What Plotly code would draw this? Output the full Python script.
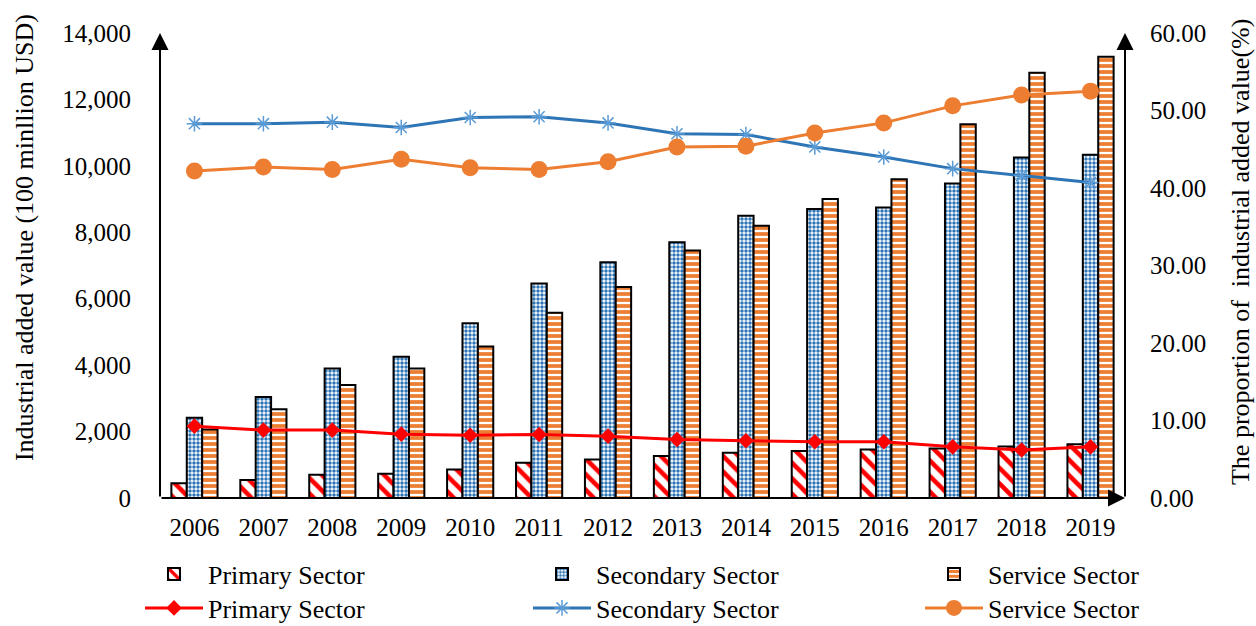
import plotly.graph_objects as go

# Industrial added value by sector (100 million USD)
years = ["2006", "2007", "2008", "2009", "2010", "2011", "2012",
         "2013", "2014", "2015", "2016", "2017", "2018", "2019"]
primary_value = [441, 541, 701, 731, 860, 1060, 1160, 1262, 1361, 1412, 1462, 1490, 1550, 1620]
secondary_value = [2413, 3044, 3900, 4250, 5260, 6460, 7100, 7700, 8500, 8700, 8750, 9472, 10253, 10334]
service_value = [2063, 2674, 3404, 3900, 4560, 5580, 6350, 7450, 8200, 9000, 9600, 11256, 12806, 13287]

# Share of industrial added value (%)
primary_share = [9.27, 8.76, 8.76, 8.24, 8.10, 8.20, 7.98, 7.55, 7.38, 7.25, 7.25, 6.60, 6.20, 6.60]
secondary_share = [48.3, 48.3, 48.5, 47.8, 49.1, 49.2, 48.4, 47.0, 46.9, 45.3, 44.0, 42.5, 41.6, 40.7]
service_share = [42.2, 42.7, 42.4, 43.7, 42.6, 42.4, 43.4, 45.3, 45.4, 47.1, 48.4, 50.6, 52.0, 52.5]

left_ticks = [0, 2000, 4000, 6000, 8000, 10000, 12000, 14000]
right_ticks = [0, 10, 20, 30, 40, 50, 60]

FONT = "Liberation Serif"
RED = "#ff0000"
BLUE = "#2e75b6"
LIGHT_BLUE = "#5b9bd5"
ORANGE = "#ed7d31"

fig = go.Figure()

fig.add_trace(go.Bar(
    x=years, y=primary_value, name="Primary Sector", legend="legend",
    marker=dict(color="white", line=dict(color="black", width=2),
                pattern=dict(shape="\\", fgcolor=RED, bgcolor="white", fgopacity=1,
                             size=11, solidity=0.42, fillmode="replace")),
))
fig.add_trace(go.Bar(
    x=years, y=secondary_value, name="Secondary Sector", legend="legend2",
    marker=dict(color="white", line=dict(color="black", width=2),
                pattern=dict(shape=".", fgcolor=BLUE, bgcolor="white", fgopacity=1,
                             size=4, solidity=0.6, fillmode="replace")),
))
fig.add_trace(go.Bar(
    x=years, y=service_value, name="Service Sector", legend="legend3",
    marker=dict(color="white", line=dict(color="black", width=2),
                pattern=dict(shape="-", fgcolor=ORANGE, bgcolor="white", fgopacity=1,
                             size=6, solidity=0.62, fillmode="replace")),
))

fig.add_trace(go.Scatter(
    x=years, y=primary_share, yaxis="y2", name="Primary Sector", legend="legend4",
    mode="lines+markers", line=dict(color=RED, width=3),
    marker=dict(symbol="diamond", size=12, color=RED),
))
fig.add_trace(go.Scatter(
    x=years, y=secondary_share, yaxis="y2", name="Secondary Sector", legend="legend5",
    mode="lines+markers", line=dict(color=BLUE, width=3),
    marker=dict(symbol="asterisk-open", size=13, color=LIGHT_BLUE,
                line=dict(color=LIGHT_BLUE, width=1.5)),
))
fig.add_trace(go.Scatter(
    x=years, y=service_share, yaxis="y2", name="Service Sector", legend="legend6",
    mode="lines+markers", line=dict(color=ORANGE, width=3),
    marker=dict(symbol="circle", size=17, color=ORANGE),
))

tick_font = dict(family=FONT, size=25, color="black")

# Axis lines with arrowheads
arrow_common = dict(text="", showarrow=True, arrowhead=2, arrowsize=1.7,
                    arrowwidth=2, arrowcolor="black",
                    xref="x domain", yref="y domain",
                    axref="x domain", ayref="y domain")
annotations = [
    dict(x=0, y=1, ax=0, ay=0, **arrow_common),
    dict(x=1, y=1, ax=1, ay=0, **arrow_common),
    dict(x=1, y=0, ax=0, ay=0, **arrow_common),
    dict(text="Industrial added value (100 minllion USD)", textangle=-90,
         xref="paper", yref="paper", x=-0.1409, y=0.559,
         xanchor="center", yanchor="middle", showarrow=False,
         font=dict(family=FONT, size=26, color="black")),
    dict(text="The proportion of \u00a0industrial added value(%)", textangle=-90,
         xref="paper", yref="paper", x=1.1192, y=0.529,
         xanchor="center", yanchor="middle", showarrow=False,
         font=dict(family=FONT, size=26, color="black")),
]

legend_common = dict(orientation="v", font=dict(family=FONT, size=26, color="black"),
                     bgcolor="rgba(0,0,0,0)", itemwidth=58,
                     xanchor="left", yanchor="middle")
plot_left, plot_w, plot_bottom, plot_h = 160, 965, 498, 465


def px_x(px):
    return (px - plot_left) / plot_w


def px_y(py):
    return (plot_bottom - py) / plot_h


fig.update_layout(
    width=1256, height=626,
    margin=dict(l=160, r=131, t=33, b=128, autoexpand=False),
    paper_bgcolor="white", plot_bgcolor="white",
    showlegend=True,
    barmode="group", bargap=0.33, bargroupgap=0,
    font=dict(family=FONT, color="black"),
    xaxis=dict(type="category", range=[-0.5, 13.5], showline=False,
               showgrid=False, zeroline=False,
               ticks="", tickfont=tick_font, ticklabelstandoff=12),
    yaxis=dict(range=[0, 14000], tickvals=left_ticks, tickformat=",",
               showline=False, showgrid=False, zeroline=False, ticks="",
               tickfont=tick_font, ticklabelstandoff=28),
    yaxis2=dict(range=[0, 60], tickvals=right_ticks, tickformat=".2f",
                overlaying="y", side="right",
                showline=False, showgrid=False, zeroline=False, ticks="",
                tickfont=tick_font, ticklabelstandoff=24),
    annotations=annotations,
    legend=dict(x=px_x(140), y=px_y(574), **legend_common),
    legend2=dict(x=px_x(528), y=px_y(574), **legend_common),
    legend3=dict(x=px_x(920), y=px_y(574), **legend_common),
    legend4=dict(x=px_x(140), y=px_y(608), **legend_common),
    legend5=dict(x=px_x(528), y=px_y(608), **legend_common),
    legend6=dict(x=px_x(920), y=px_y(608), **legend_common),
)

fig.write_html("out.html")
